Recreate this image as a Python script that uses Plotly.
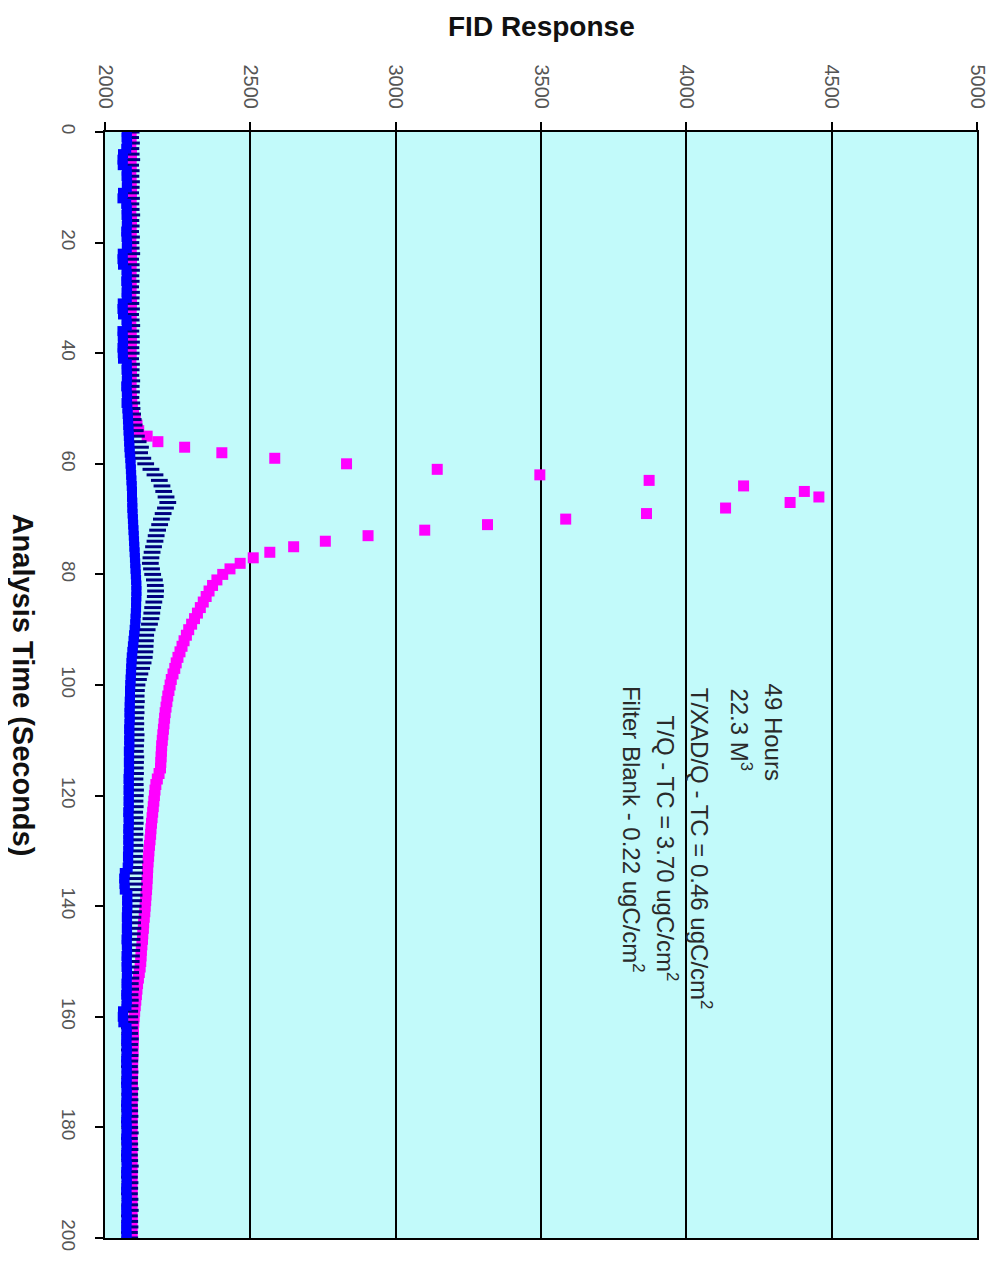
import plotly.graph_objects as go

# ---------------- data ----------------
time_s = list(range(0, 201))

tq_tc = [
    2088, 2090, 2087, 2089, 2091, 2088, 2090, 2089, 2087, 2090,
    2089, 2091, 2088, 2090, 2087, 2089, 2091, 2088, 2090, 2089,
    2088, 2090, 2089, 2091, 2088, 2090, 2087, 2089, 2090, 2088,
    2089, 2091, 2088, 2090, 2089, 2087, 2090, 2089, 2091, 2088,
    2090, 2089, 2088, 2091, 2089, 2090, 2088, 2089, 2091, 2092,
    2094, 2098, 2104, 2110, 2116, 2145, 2182, 2274, 2402, 2584,
    2831, 3143, 3496, 3872, 4197, 4406, 4456, 4357, 4135, 3863,
    3585, 3316, 3100, 2905, 2758, 2649, 2567, 2510, 2465, 2430,
    2405, 2385, 2370, 2358, 2348, 2338, 2328, 2318, 2308, 2298,
    2288, 2280, 2272, 2265, 2258, 2251, 2245, 2240, 2234, 2228,
    2224, 2220, 2216, 2213, 2210, 2207, 2205, 2203, 2201, 2199,
    2197, 2195, 2194, 2193, 2192, 2191, 2186, 2180, 2175, 2172,
    2170, 2168, 2166, 2164, 2162, 2160, 2158, 2157, 2155, 2153,
    2151, 2150, 2148, 2147, 2146, 2145, 2144, 2143, 2141, 2140,
    2138, 2137, 2135, 2133, 2132, 2130, 2129, 2127, 2125, 2124,
    2123, 2121, 2118, 2115, 2112, 2110, 2108, 2106, 2104, 2102,
    2100, 2099, 2098, 2098, 2097, 2097, 2096, 2096, 2095, 2095,
    2095, 2094, 2094, 2094, 2093, 2093, 2093, 2094, 2093, 2093,
    2093, 2092, 2093, 2093, 2092, 2093, 2093, 2092, 2093, 2093,
    2092, 2093, 2093, 2092, 2093, 2092, 2093, 2093, 2092, 2093,
    2093,
]

txadq_tc = [
    2090, 2088, 2091, 2089, 2090, 2092, 2088, 2090, 2089, 2091,
    2090, 2088, 2091, 2089, 2090, 2092, 2089, 2090, 2088, 2091,
    2089, 2090, 2092, 2088, 2090, 2091, 2089, 2090, 2088, 2091,
    2090, 2089, 2091, 2088, 2090, 2092, 2089, 2090, 2091, 2089,
    2090, 2088, 2091, 2090, 2089, 2092, 2090, 2091, 2089, 2092,
    2093, 2095, 2097, 2100, 2104, 2108, 2114, 2122, 2119, 2130,
    2140, 2158, 2172, 2187, 2196, 2202, 2210, 2216, 2208, 2200,
    2194, 2188, 2181, 2176, 2172, 2167, 2162, 2158, 2156, 2160,
    2164, 2170, 2173, 2174, 2173, 2168, 2164, 2161, 2158, 2153,
    2145, 2140, 2139, 2138, 2137, 2135, 2131, 2126, 2120, 2115,
    2110, 2108, 2107, 2108, 2106, 2107, 2105, 2106, 2105, 2107,
    2106, 2105, 2104, 2106, 2105, 2104, 2105, 2103, 2104, 2105,
    2104, 2103, 2104, 2102, 2103, 2104, 2102, 2103, 2101, 2103,
    2102, 2101, 2103, 2101, 2102, 2100, 2101, 2099, 2100, 2098,
    2097, 2098, 2096, 2095, 2096, 2094, 2093, 2094, 2092, 2091,
    2090, 2089, 2088, 2089, 2087, 2088, 2086, 2087, 2086, 2085,
    2085, 2086, 2084, 2085, 2087, 2085, 2084, 2086, 2085, 2084,
    2086, 2085, 2084, 2087, 2085, 2086, 2084, 2085, 2086, 2084,
    2085, 2087, 2084, 2085, 2086, 2084, 2085, 2087, 2085, 2084,
    2086, 2085, 2084, 2086, 2085, 2087, 2084, 2085, 2086, 2084,
    2085,
]

blank_tc = [
    2075, 2074, 2076, 2073, 2062, 2060, 2061, 2075, 2074, 2076,
    2075, 2062, 2060, 2073, 2075, 2074, 2076, 2075, 2073, 2074,
    2076, 2075, 2061, 2060, 2062, 2074, 2075, 2073, 2076, 2074,
    2075, 2061, 2060, 2062, 2074, 2075, 2060, 2061, 2062, 2060,
    2061, 2062, 2075, 2074, 2076, 2075, 2073, 2075, 2076, 2074,
    2077, 2078, 2079, 2080, 2081, 2082, 2083, 2084, 2085, 2087,
    2088, 2089, 2090, 2091, 2092, 2093, 2093, 2094, 2094, 2095,
    2096, 2097, 2098, 2099, 2100, 2101, 2102, 2103, 2104, 2105,
    2106, 2107, 2108, 2108, 2108, 2107, 2107, 2106, 2105, 2104,
    2102, 2100, 2098, 2096, 2094, 2092, 2091, 2090, 2089, 2088,
    2087, 2086, 2086, 2085, 2085, 2084, 2085, 2084, 2083, 2084,
    2083, 2084, 2082, 2083, 2082, 2083, 2082, 2081, 2082, 2081,
    2082, 2081, 2082, 2080, 2081, 2082, 2080, 2081, 2080, 2081,
    2080, 2079, 2080, 2078, 2068, 2066, 2067, 2068, 2077, 2076,
    2077, 2076, 2075, 2076, 2075, 2076, 2074, 2075, 2076, 2074,
    2075, 2074, 2076, 2075, 2074, 2075, 2073, 2075, 2074, 2062,
    2061, 2063, 2074, 2075, 2073, 2074, 2075, 2074, 2073, 2075,
    2074, 2075, 2073, 2074, 2075, 2074, 2073, 2075, 2074, 2073,
    2075, 2074, 2073, 2075, 2074, 2073, 2074, 2075, 2073, 2074,
    2075, 2073, 2074, 2075, 2074, 2073, 2075, 2074, 2073, 2074,
    2074,
]

fid_ticks = [2000, 2500, 3000, 3500, 4000, 4500, 5000]
time_ticks = [0, 20, 40, 60, 80, 100, 120, 140, 160, 180, 200]

note_lines = [
    "49 Hours",
    "22.3 M<sup>3</sup>",
    "T/XAD/Q - TC = 0.46 ugC/cm<sup>2</sup>",
    "T/Q - TC = 3.70 ugC/cm<sup>2</sup>",
    "Filter Blank - 0.22 ugC/cm<sup>2</sup>",
]

# ---------------- layout geometry (page pixels) ----------------
OFF = 8                      # default body margin of the html page
PAGE_W, PAGE_H = 1001, 1263
W, H = PAGE_W - OFF, PAGE_H - OFF
PL, PR, PT, PB = 105, 981, 132, 1238   # plot area on the page
L, T = PL - OFF, PT - OFF
R, B = PAGE_W - PR, PAGE_H - PB
PW, PH = PR - PL, PB - PT


def px_x(px):
    return (px - PL) / PW


def px_y(py):
    return (PB - py) / PH


FONT = "Liberation Sans, Arial, sans-serif"

fig = go.Figure()

fig.add_trace(go.Scatter(
    x=tq_tc, y=time_s, mode="markers", name="T/Q",
    marker=dict(symbol="square", size=11, color="#FF00FF"),
))
fig.add_trace(go.Scatter(
    x=txadq_tc, y=time_s, mode="markers", name="T/XAD/Q",
    marker=dict(symbol="line-ew", size=12, color="#000080",
                line=dict(color="#000080", width=3)),
))
fig.add_trace(go.Scatter(
    x=blank_tc, y=time_s, mode="markers", name="Filter Blank",
    marker=dict(symbol="square", size=10, color="#0000FF"),
))

# note text lines (rotated)
note_pos = [(777, 682), (744, 686), (704, 686), (670, 714), (636, 684)]
for txt, (cx, ty) in zip(note_lines, note_pos):
    fig.add_annotation(
        text=txt, xref="paper", yref="paper",
        x=px_x(cx), y=px_y(ty), xanchor="center", yanchor="top",
        textangle=90, showarrow=False,
        font=dict(family=FONT, size=24, color="#2a2a2a"),
    )

# axis titles
fig.add_annotation(
    text="<b>FID Response</b>", xref="paper", yref="paper",
    x=px_x(544), y=px_y(26), xanchor="center", yanchor="middle",
    showarrow=False, font=dict(family=FONT, size=28, color="#111111"),
)
fig.add_annotation(
    text="<b>Analysis Time (Seconds)</b>", xref="paper", yref="paper",
    x=px_x(23), y=px_y(685), xanchor="center", yanchor="middle",
    textangle=90, showarrow=False,
    font=dict(family=FONT, size=29, color="#111111"),
)

fig.update_layout(
    width=W, height=H,
    margin=dict(l=L, r=R, t=T, b=B, pad=0),
    paper_bgcolor="white",
    plot_bgcolor="#C2FAFA",
    showlegend=False,
    xaxis=dict(
        side="top", range=[2000, 5000], tickvals=fid_ticks,
        ticktext=[str(v) for v in fid_ticks],
        tickangle=90, ticks="outside", ticklen=8, tickwidth=2,
        tickcolor="black", showline=True, linecolor="black", linewidth=2,
        mirror=True, showgrid=True, gridcolor="black", gridwidth=2,
        zeroline=False, ticklabelstandoff=6,
        tickfont=dict(family=FONT, size=20, color="#555555"),
    ),
    yaxis=dict(
        range=[200, 0], tickvals=time_ticks,
        ticktext=[str(v) for v in time_ticks],
        tickangle=90, ticks="outside", ticklen=8, tickwidth=2,
        tickcolor="black", showline=True, linecolor="black", linewidth=2,
        mirror=True, showgrid=False, zeroline=False, ticklabelstandoff=10,
        tickfont=dict(family=FONT, size=19, color="#555555"),
    ),
)

fig.write_html("out.html")
